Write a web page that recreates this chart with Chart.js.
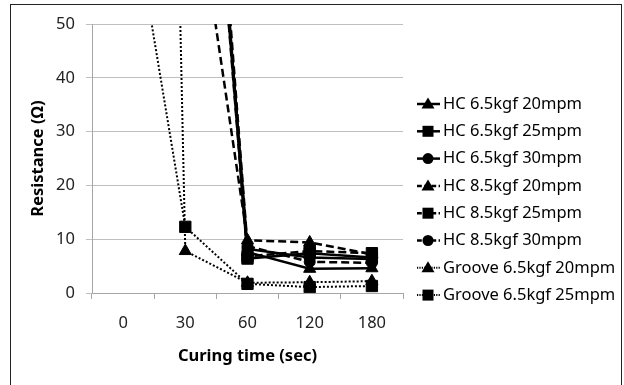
<!DOCTYPE html>
<html>
<head>
<meta charset="utf-8">
<script src="https://cdn.jsdelivr.net/npm/chart.js@4/dist/chart.umd.min.js"></script>
<style>
  html, body { margin: 0; padding: 0; background: #fff; }
  #wrap { width: 624px; height: 385px; }
</style>
</head>
<body>
<div id="wrap"><canvas id="chart" width="624" height="385"></canvas></div>
<script>
const categories = ["0", "30", "60", "120", "180"];
const seriesNames = [
  "HC 6.5kgf 20mpm", "HC 6.5kgf 25mpm", "HC 6.5kgf 30mpm",
  "HC 8.5kgf 20mpm", "HC 8.5kgf 25mpm", "HC 8.5kgf 30mpm",
  "Groove 6.5kgf 20mpm", "Groove 6.5kgf 25mpm"
];
// values above 50 run off the top of the plot, as in the original
const hc65_20 = [null, 150, 7.6, 4.5, 4.6];
const hc65_25 = [null, 158, 6.4, 7.4, 6.6];
const hc65_30 = [null, 154, 8.2, 6.6, 6.3];
const hc85_20 = [null, 88, 9.8, 9.4, 7.2];
const hc85_25 = [null, 150, 6.8, 7.8, 7.4];
const hc85_30 = [null, 160, 8.7, 5.8, 5.6];
const gr65_20 = [535, 7.8, 1.9, 2.0, 2.2];
const gr65_25 = [82, 12.3, 1.7, 1.1, 1.3];
const yTicks = [0, 10, 20, 30, 40, 50];

const seriesData = [hc65_20, hc65_25, hc65_30, hc85_20, hc85_25, hc85_30, gr65_20, gr65_25];
const markers = ["triangle", "rect", "circle", "triangle", "rect", "circle", "triangle", "rect"];
const dashes = [[], [], [], [8, 4], [8, 4], [8, 4], [2, 2], [2, 2]];
const radii = { triangle: 7, rect: 8, circle: 5.5 };

const datasets = seriesNames.map((name, i) => ({
  label: name,
  data: seriesData[i],
  borderColor: "#000",
  backgroundColor: "#000",
  borderWidth: i >= 6 ? 2 : 2.5,
  borderDash: dashes[i],
  pointStyle: markers[i],
  pointRadius: radii[markers[i]],
  pointBackgroundColor: "#000",
  pointBorderColor: "#000",
  pointBorderWidth: 1,
  spanGaps: false,
  tension: 0
}));

// frame around the whole figure
const framePlugin = {
  id: "frame",
  afterDraw(chart) {
    const ctx = chart.ctx;
    ctx.save();
    ctx.strokeStyle = "#222";
    ctx.lineWidth = 1;
    ctx.strokeRect(10.5, 4.5, 611, 420);
    ctx.restore();
  }
};

// legend with line + marker, drawn to the right of the plot
const legendPlugin = {
  id: "sideLegend",
  afterDraw(chart) {
    const ctx = chart.ctx;
    ctx.save();
    chart.data.datasets.forEach((ds, i) => {
      const y = 104 + i * 27.3;
      ctx.strokeStyle = "#000";
      ctx.lineWidth = ds.borderWidth;
      ctx.setLineDash(ds.borderDash.length ? ds.borderDash.map(v => v * 0.6) : []);
      ctx.beginPath();
      ctx.moveTo(417, y);
      ctx.lineTo(440, y);
      ctx.stroke();
      ctx.setLineDash([]);
      ctx.fillStyle = "#000";
      ctx.beginPath();
      if (ds.pointStyle === "triangle") {
        ctx.moveTo(428, y - 6.5);
        ctx.lineTo(434.5, y + 4.5);
        ctx.lineTo(421.5, y + 4.5);
        ctx.closePath();
      } else if (ds.pointStyle === "rect") {
        ctx.rect(422.5, y - 5.5, 11, 11);
      } else {
        ctx.arc(428, y, 5.5, 0, Math.PI * 2);
      }
      ctx.fill();
      ctx.font = "16.5px 'Noto Sans'";
      ctx.textBaseline = "middle";
      ctx.textAlign = "left";
      ctx.fillStyle = "#000";
      ctx.fillText(ds.label, 443, y);
    });
    ctx.restore();
  }
};

new Chart(document.getElementById("chart"), {
  type: "line",
  data: { labels: categories, datasets: datasets },
  options: {
    responsive: false,
    animation: false,
    layout: { padding: { top: 24, right: 221, left: 0, bottom: 0 } },
    plugins: {
      legend: { display: false },
      tooltip: { enabled: false }
    },
    scales: {
      x: {
        type: "category",
        offset: true,
        grid: { display: true, drawOnChartArea: false, offset: true, tickLength: 6, color: "#a6a6a6" },
        border: { display: true, color: "#a6a6a6" },
        ticks: { color: "#222", font: { family: "Noto Sans", size: 16.5 }, padding: 14, maxRotation: 0 },
        title: {
          display: true, text: "Curing time (sec)", color: "#000",
          font: { family: "Noto Sans", size: 16.5, weight: "bold" },
          padding: { top: 0, bottom: 19 }
        },
        afterFit(s) { s.height = 92; }
      },
      y: {
        min: 0, max: 50,
        afterBuildTicks(s) { s.ticks = yTicks.map(v => ({ value: v })); },
        grid: { color: "#bfbfbf", tickLength: 6 },
        border: { display: true, color: "#a6a6a6" },
        ticks: { color: "#222", font: { family: "Noto Sans", size: 16.5 }, padding: 11 },
        title: {
          display: true, text: "Resistance (Ω)", color: "#000",
          font: { family: "Noto Sans", size: 16.5, weight: "bold" },
          padding: { top: 28, bottom: 0 }
        },
        afterFit(s) { s.width = 92; }
      }
    }
  },
  plugins: [framePlugin, legendPlugin]
});
</script>
</body>
</html>
